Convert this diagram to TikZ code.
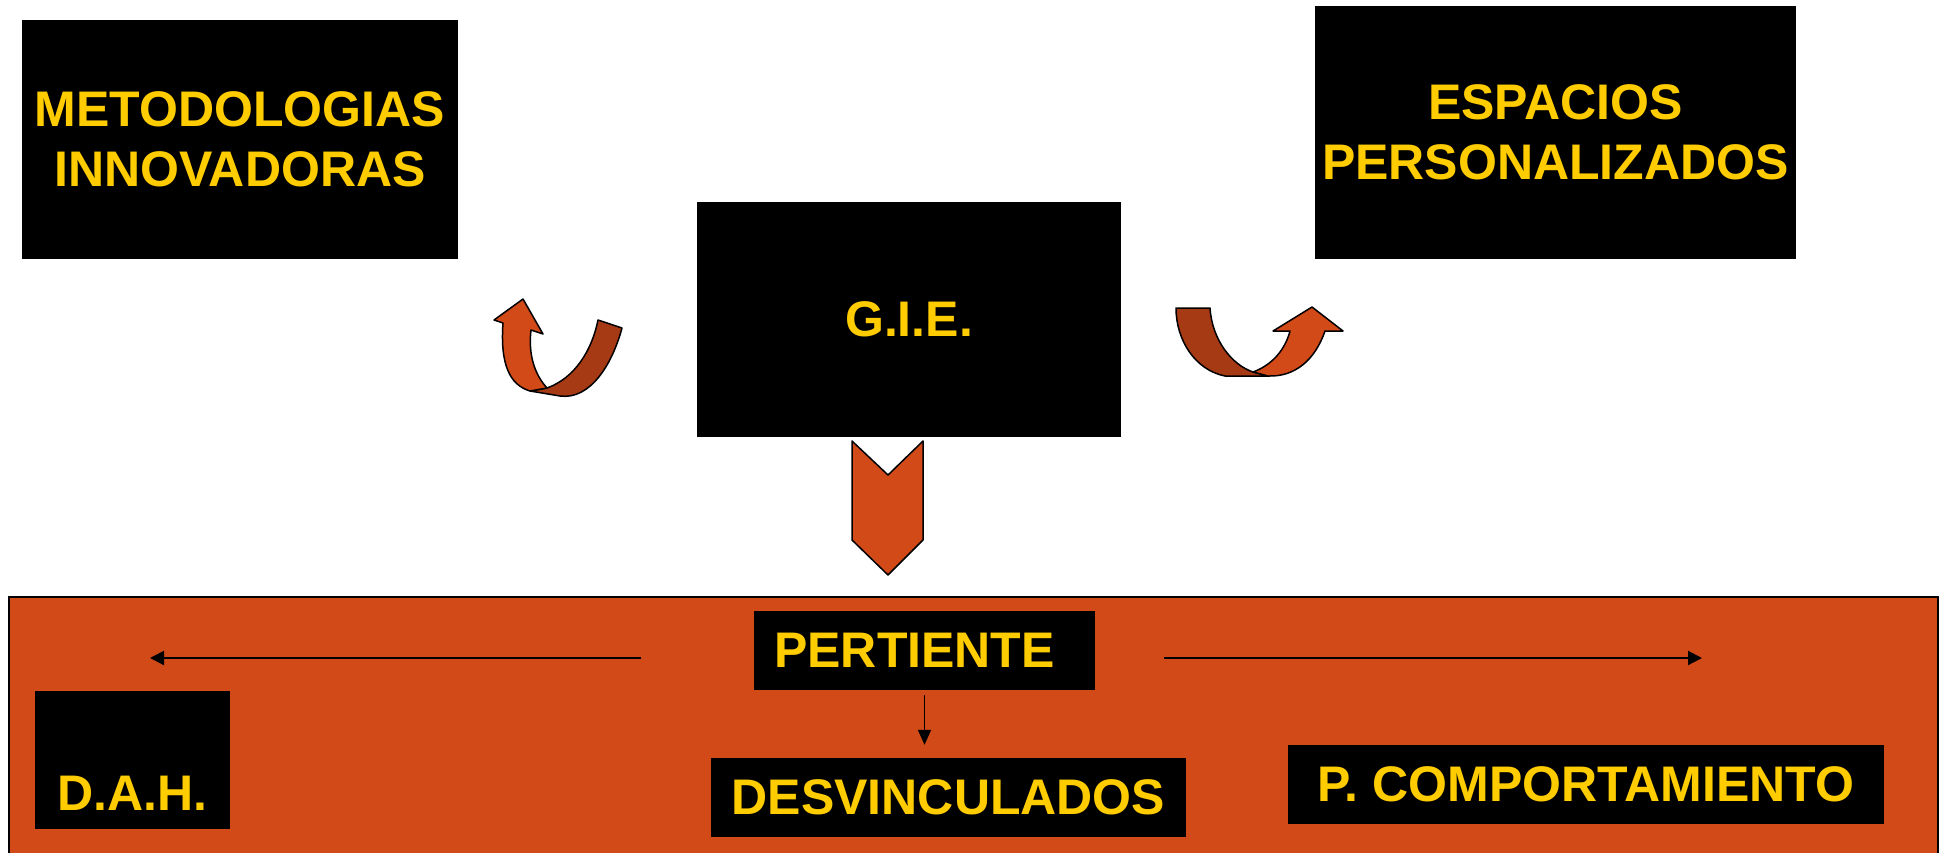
\documentclass[tikz,border=0pt]{standalone}
\usepackage{fontspec}
\setmainfont{Liberation Sans}
\usetikzlibrary{arrows.meta}
\definecolor{rust}{RGB}{209,74,24}
\definecolor{darkrust}{RGB}{166,58,20}
\definecolor{gold}{RGB}{255,204,0}
\begin{document}
\begin{tikzpicture}[x=1pt,y=-1pt,
  box/.style={fill=black,text=gold,align=center,inner sep=0pt,font=\bfseries\fontsize{50}{60}\selectfont},
  link/.style={-{Triangle[length=14pt,width=14pt]},line width=2pt},
  ribbon/.style={line width=1.5pt,line join=round}]
  \useasboundingbox (0,0) rectangle (1942,852);
  \node[box,minimum width=436pt,minimum height=239pt](met) at (240,139.5) {METODOLOGIAS\\INNOVADORAS};
  \node[box,minimum width=481pt,minimum height=253pt](esp) at (1555.5,132.5) {ESPACIOS\\PERSONALIZADOS};
  \node[box,minimum width=424pt,minimum height=235pt](gie) at (909,319.5) {G.I.E.};
  \filldraw[ribbon,fill=darkrust] (530,391) -- (547,388) .. controls (575,378) and (592,350) .. (598,320) -- (622,328) .. controls (612,365) and (590,400) .. (560,396) -- cycle;
  \filldraw[ribbon,fill=rust] (503,323) -- (494,320) -- (523,299) -- (543,334) -- (531,330) .. controls (528,355) and (535,375) .. (547,388) -- (530,391) .. controls (510,385) and (500,365) .. (503,323) -- cycle;
  \filldraw[ribbon,fill=darkrust] (1176,308) -- (1210,308) .. controls (1212,340) and (1232,365) .. (1253,372) -- (1268,376) -- (1225,376) .. controls (1195,370) and (1176,340) .. (1176,308) -- cycle;
  \filldraw[ribbon,fill=rust] (1253,372) .. controls (1272,365) and (1285,350) .. (1290,331) -- (1273,331) -- (1312,307) -- (1343,331) -- (1325,331) .. controls (1315,360) and (1295,377) .. (1268,376) -- cycle;
  \filldraw[ribbon,fill=rust] (852,441) -- (888,475) -- (923,441) -- (923,540) -- (888,575) -- (852,540) -- cycle;
  \filldraw[line width=2pt,fill=rust] (9,597) rectangle (1938,870);
  \node[box,minimum width=341pt,minimum height=79pt](pert) at (924.5,650.5) {PERTIENTE\hspace{20pt}};
  \node[box,minimum width=475pt,minimum height=79pt](desv) at (948.5,797.5) {DESVINCULADOS};
  \node[box,minimum width=596pt,minimum height=79pt](comp) at (1586,784.5) {P. COMPORTAMIENTO};
  \node[box,minimum width=195pt,minimum height=138pt,text height=100pt,text depth=0pt](dah) at (132.5,760) {D.A.H.};
  \coordinate(l1) at (641,658);
  \coordinate(l2) at (150,658);
  \coordinate(r1) at (1164,658);
  \coordinate(r2) at (1702,658);
  \draw[link] (l1) -- (l2);
  \draw[link] (r1) -- (r2);
  \draw[link,line width=1.5pt,-{Triangle[length=15pt,width=13pt]}] ([yshift=-5pt]pert.south) -- ([yshift=13pt]pert.south |- desv.north);
\end{tikzpicture}
\end{document}
